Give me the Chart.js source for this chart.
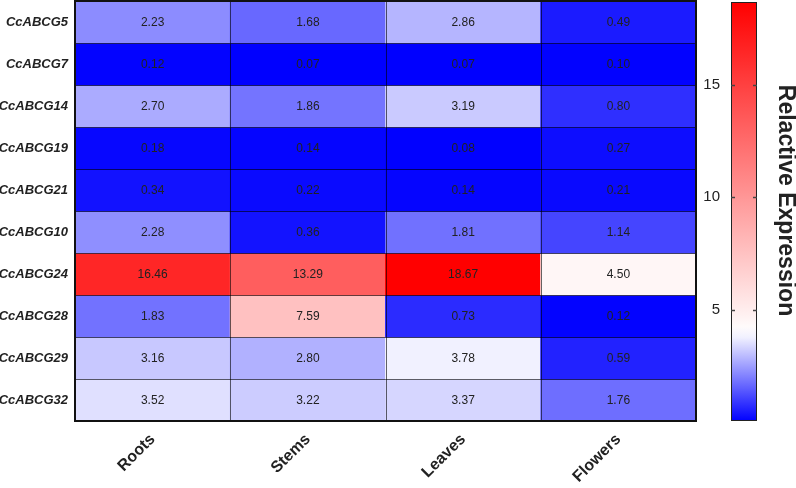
<!DOCTYPE html>
<html><head><meta charset="utf-8">
<script src="https://cdn.jsdelivr.net/npm/chart.js@4.4.1/dist/chart.umd.min.js"></script>
<style>
html,body{margin:0;padding:0;background:#fff;overflow:hidden;width:796px;height:488px}
#main{position:absolute;left:0;top:0;width:700px;height:488px}
#cbar{position:absolute;left:700px;top:0;width:96px;height:488px}
</style></head><body>
<div id="main"><canvas id="c1"></canvas></div>
<div id="cbar"><canvas id="c2"></canvas></div>
<script>
// ---- data ----
const genes = ['CcABCG5','CcABCG7','CcABCG14','CcABCG19','CcABCG21','CcABCG10','CcABCG24','CcABCG28','CcABCG29','CcABCG32'];
const tissues = ['Roots','Stems','Leaves','Flowers'];
const roots   = [2.23, 0.12, 2.70, 0.18, 0.34, 2.28, 16.46, 1.83, 3.16, 3.52];
const stems   = [1.68, 0.07, 1.86, 0.14, 0.22, 0.36, 13.29, 7.59, 2.80, 3.22];
const leaves  = [2.86, 0.07, 3.19, 0.08, 0.14, 1.81, 18.67, 0.73, 3.78, 3.37];
const flowers = [0.49, 0.10, 0.80, 0.27, 0.21, 1.14, 4.50, 0.12, 0.59, 1.76];
const colorbarTicks = [5, 10, 15];
const colorbarTitle = 'Relactive Expression';

// ---- colour scale ----
const all = roots.concat(stems, leaves, flowers);
const vmin = Math.min(...all), vmax = Math.max(...all);
const vmid = 4.0;
function colorFor(v){
  if (v <= vmid){
    const t = Math.max(0, (v - vmin) / (vmid - vmin));
    const c = Math.round(255 * t);
    return `rgb(${c},${c},255)`;
  } else {
    const t = Math.min(1, (v - vmid) / (vmax - vmid));
    const c = Math.round(255 * (1 - t));
    return `rgb(255,${c},${c})`;
  }
}

const FONT = "'Liberation Sans', Arial, sans-serif";
Chart.defaults.font.family = FONT;
Chart.defaults.color = '#222';

const cols = [roots, stems, leaves, flowers];
const datasets = genes.map((g, i) => {
  const vals = cols.map(c => c[i]);
  return {
    label: g,
    data: tissues.map(() => 1),
    values: vals,
    backgroundColor: vals.map(colorFor),
    borderWidth: 0,
    barPercentage: 1,
    categoryPercentage: 1,
    inflateAmount: 0.5
  };
});

const noPad = s => { s.paddingTop = 0; s.paddingBottom = 0; s.paddingLeft = 0; s.paddingRight = 0; };

const cellText = {
  id: 'cellText',
  afterDatasetsDraw(chart){
    const ctx = chart.ctx, a = chart.chartArea;
    const xs = chart.scales.x, ys = chart.scales.y;
    ctx.save();
    ctx.strokeStyle = 'rgba(0,0,0,0.6)';
    ctx.lineWidth = 1;
    for (let j = 1; j < tissues.length; j++) {
      const px = Math.round((xs.getPixelForValue(j - 1) + xs.getPixelForValue(j)) / 2) + 0.5;
      ctx.beginPath(); ctx.moveTo(px, a.top); ctx.lineTo(px, a.bottom); ctx.stroke();
    }
    for (let i = 1; i < genes.length; i++) {
      const py = Math.round(ys.getPixelForValue(i)) + 0.5;
      ctx.beginPath(); ctx.moveTo(a.left, py); ctx.lineTo(a.right, py); ctx.stroke();
    }
    ctx.font = `12px ${FONT}`;
    ctx.fillStyle = '#222';
    ctx.textAlign = 'center';
    ctx.textBaseline = 'middle';
    chart.data.datasets.forEach((ds, di) => {
      const meta = chart.getDatasetMeta(di);
      meta.data.forEach((el, j) => {
        ctx.fillText(ds.values[j].toFixed(2), el.x, (el.y + el.base) / 2 + 1);
      });
    });
    ctx.restore();
  },
  afterDraw(chart){
    const a = chart.chartArea, ctx = chart.ctx;
    ctx.save();
    ctx.strokeStyle = '#111';
    ctx.lineWidth = 2;
    ctx.strokeRect(a.left, a.top, a.right - a.left, a.bottom - a.top);
    ctx.restore();
  }
};

new Chart(document.getElementById('c1'), {
  type: 'bar',
  data: { labels: tissues, datasets },
  options: {
    responsive: true, maintainAspectRatio: false, animation: false,
    layout: { padding: { top: 1, right: 4, left: 0, bottom: 0 } },
    plugins: { legend: { display: false }, tooltip: { enabled: false } },
    scales: {
      x: {
        stacked: true,
        grid: { display: false },
        border: { display: false },
        ticks: { minRotation: 45, maxRotation: 45, font: { size: 16, weight: 'bold' }, color: '#222', padding: 1 },
        afterFit: s => { s.height = 67; noPad(s); }
      },
      y: {
        stacked: true, min: 0, max: genes.length, reverse: true,
        grid: { display: false, drawTicks: false },
        border: { display: false },
        afterBuildTicks: s => { s.ticks = genes.map((g, i) => ({ value: i + 0.5 })); },
        ticks: {
          padding: 7,
          font: { size: 13, weight: 'bold', style: 'italic' }, color: '#222',
          callback: (v) => genes[Math.floor(v)]
        },
        afterFit: s => { s.width = 75; noPad(s); }
      }
    }
  },
  plugins: [cellText]
});

// ---- colour bar ----
const cbarPlugin = {
  id: 'cbarFrame',
  afterDraw(chart){
    const a = chart.chartArea, ctx = chart.ctx, y = chart.scales.y;
    ctx.save();
    ctx.strokeStyle = '#222';
    ctx.lineWidth = 1;
    ctx.strokeRect(a.left + 0.5, a.top + 0.5, a.right - a.left - 1, a.bottom - a.top - 1);
    ctx.strokeStyle = '#444';
    ctx.lineWidth = 1.5;
    colorbarTicks.forEach(v => {
      const py = Math.round(y.getPixelForValue(v)) + 0.5;
      ctx.beginPath(); ctx.moveTo(a.left, py); ctx.lineTo(a.left + 4, py); ctx.stroke();
      ctx.beginPath(); ctx.moveTo(a.right - 4, py); ctx.lineTo(a.right, py); ctx.stroke();
    });
    // colour-bar title, rotated, reading top to bottom
    const y2 = chart.scales.y2;
    ctx.translate((y2.left + y2.right) / 2 + 9, (a.top + a.bottom) / 2 - 11);
    ctx.rotate(Math.PI / 2);
    ctx.font = `bold 23px ${FONT}`;
    ctx.fillStyle = '#222';
    ctx.textAlign = 'center';
    ctx.textBaseline = 'middle';
    ctx.fillText(colorbarTitle, 0, 0);
    ctx.restore();
  }
};

new Chart(document.getElementById('c2'), {
  type: 'bar',
  data: {
    labels: [''],
    datasets: [{
      data: [[vmin, vmax]],
      barPercentage: 1, categoryPercentage: 1, borderWidth: 0, inflateAmount: 0,
      backgroundColor: (c) => {
        const ch = c.chart, y = ch.scales.y;
        if (!ch.chartArea || !y) return '#fff';
        const y0 = y.getPixelForValue(vmin), y1 = y.getPixelForValue(vmax);
        const g = ch.ctx.createLinearGradient(0, y0, 0, y1);
        const steps = 40;
        for (let k = 0; k <= steps; k++) {
          const v = vmin + (vmax - vmin) * k / steps;
          g.addColorStop(k / steps, colorFor(v));
        }
        return g;
      }
    }]
  },
  options: {
    responsive: true, maintainAspectRatio: false, animation: false,
    layout: { padding: { top: 2, bottom: 67, left: 0, right: 0 } },
    plugins: { legend: { display: false }, tooltip: { enabled: false } },
    scales: {
      x: { display: false },
      y: {
        position: 'left', min: vmin, max: vmax,
        grid: { display: false },
        border: { display: false },
        afterBuildTicks: s => { s.ticks = colorbarTicks.map(v => ({ value: v })); },
        ticks: { font: { size: 15 }, color: '#222', padding: 3 },
        afterFit: s => { s.width = 31; noPad(s); }
      },
      y2: {
        display: true, position: 'right', min: 0, max: 1,
        grid: { display: false }, border: { display: false },
        ticks: { display: false },
        afterFit: s => { s.width = 39; noPad(s); }
      }
    }
  },
  plugins: [cbarPlugin]
});
</script>
</body></html>
